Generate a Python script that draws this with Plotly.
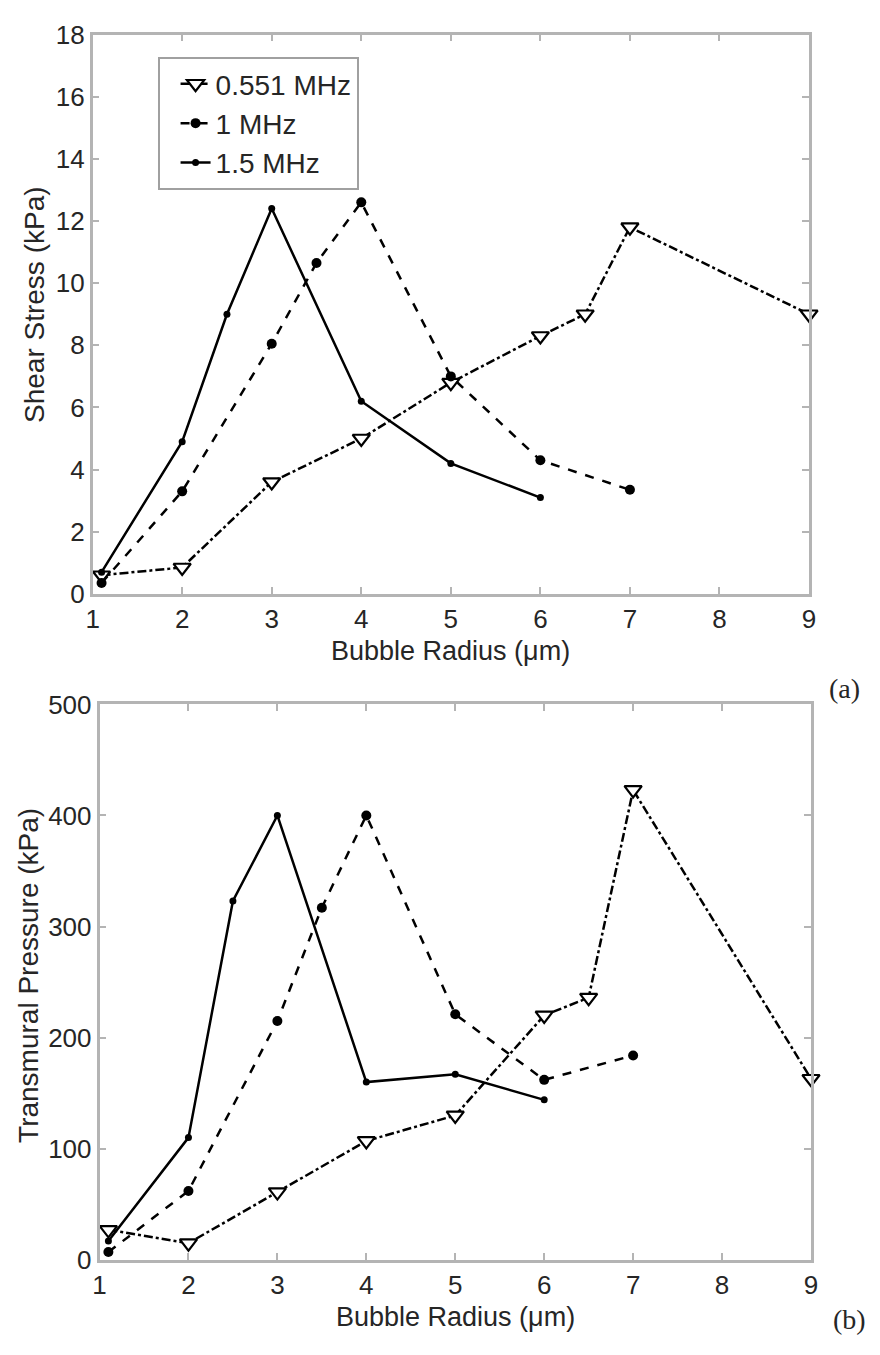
import plotly.graph_objects as go

# Panel (a): Shear stress (kPa)
x_551 = [1.1, 2, 3, 4, 5, 6, 6.5, 7, 9]
shear_551 = [0.6, 0.85, 3.6, 5.0, 6.8, 8.3, 9.0, 11.8, 9.0]
x_1 = [1.1, 2, 3, 3.5, 4, 5, 6, 7]
shear_1 = [0.35, 3.3, 8.05, 10.65, 12.6, 7.0, 4.3, 3.35]
x_15 = [1.1, 2, 2.5, 3, 4, 5, 6]
shear_15 = [0.7, 4.9, 9.0, 12.4, 6.2, 4.2, 3.1]

# Panel (b): Transmural pressure (kPa)
press_551 = [27, 15, 61, 107, 130, 220, 236, 423, 163]
press_1 = [7, 62, 215, 317, 400, 221, 162, 184]
press_15 = [17, 110, 323, 400, 160, 167, 144]

series_names = ["0.551 MHz", "1 MHz", "1.5 MHz"]
x_ticks = [1, 2, 3, 4, 5, 6, 7, 8, 9]
y1_ticks = [0, 2, 4, 6, 8, 10, 12, 14, 16, 18]
y2_ticks = [0, 100, 200, 300, 400, 500]

W, H = 880, 1355
FONT = "Liberation Sans, Arial, sans-serif"
TXT = "#262626"

styles = [
    dict(line=dict(color="black", width=2.5, dash="dashdot"),
         marker=dict(symbol="triangle-down", size=15, color="white",
                     line=dict(color="black", width=2.2))),
    dict(line=dict(color="black", width=2.5, dash="dash"),
         marker=dict(symbol="circle", size=10, color="black")),
    dict(line=dict(color="black", width=2.5, dash="solid"),
         marker=dict(symbol="circle", size=7, color="black")),
]

fig = go.Figure()
for xs, ys, name, st in zip([x_551, x_1, x_15], [shear_551, shear_1, shear_15], series_names, styles):
    fig.add_trace(go.Scatter(x=xs, y=ys, name=name, mode="lines+markers", cliponaxis=False,
                             xaxis="x", yaxis="y", showlegend=True, **st))
for xs, ys, name, st in zip([x_551, x_1, x_15], [press_551, press_1, press_15], series_names, styles):
    fig.add_trace(go.Scatter(x=xs, y=ys, name=name, mode="lines+markers", cliponaxis=False,
                             xaxis="x2", yaxis="y2", showlegend=False, **st))

axis_common = dict(showline=True, linecolor="#b4b4b4", linewidth=2.5, mirror="ticks",
                   ticks="inside", ticklen=7, tickcolor="#b4b4b4", tickwidth=1.5, showgrid=False,
                   zeroline=False, tickfont=dict(family=FONT, size=26, color=TXT))

fig.update_layout(
    width=W, height=H, margin=dict(l=0, r=0, t=0, b=0),
    paper_bgcolor="white", plot_bgcolor="white",
    font=dict(family=FONT, color=TXT),
    xaxis=dict(domain=[87 / W, 815 / W], range=[1, 9], tickvals=x_ticks, anchor="y", **axis_common),
    yaxis=dict(domain=[1 - 592 / H, 1 - 20 / H], range=[0, 18], tickvals=y1_ticks, anchor="x", **axis_common),
    xaxis2=dict(domain=[94 / W, 817 / W], range=[1, 9], tickvals=x_ticks, anchor="y2", **axis_common),
    yaxis2=dict(domain=[1 - 1273 / H, 1 - 705 / H], range=[0, 500], tickvals=y2_ticks, anchor="x2", **axis_common),
    legend=dict(x=153 / W, y=1 - 43 / H, xanchor="left", yanchor="top",
                bordercolor="#a0a0a0", borderwidth=2, bgcolor="white",
                font=dict(family=FONT, size=28, color=TXT),
                itemwidth=30, tracegroupgap=0, indentation=16),
    showlegend=True,
)

def ann(text, x, y, size=28, angle=0, family=FONT):
    fig.add_annotation(text=text, x=x / W, y=1 - y / H, xref="paper", yref="paper",
                       showarrow=False, textangle=angle, xanchor="center", yanchor="middle",
                       font=dict(family=family, size=size, color=TXT))

ann("Bubble Radius (\u03bcm)", 451, 650, size=27)
ann("Shear Stress (kPa)", 28, 296, size=28, angle=-90)
ann("Bubble Radius (\u03bcm)", 456, 1331, size=27)
ann("Transmural Pressure (kPa)", 22, 982, size=28, angle=-90)
ann("(a)", 851, 689, size=28, family="Liberation Serif, Times New Roman, serif")
ann("(b)", 856, 1334, size=28, family="Liberation Serif, Times New Roman, serif")

fig.write_html("out.html")
